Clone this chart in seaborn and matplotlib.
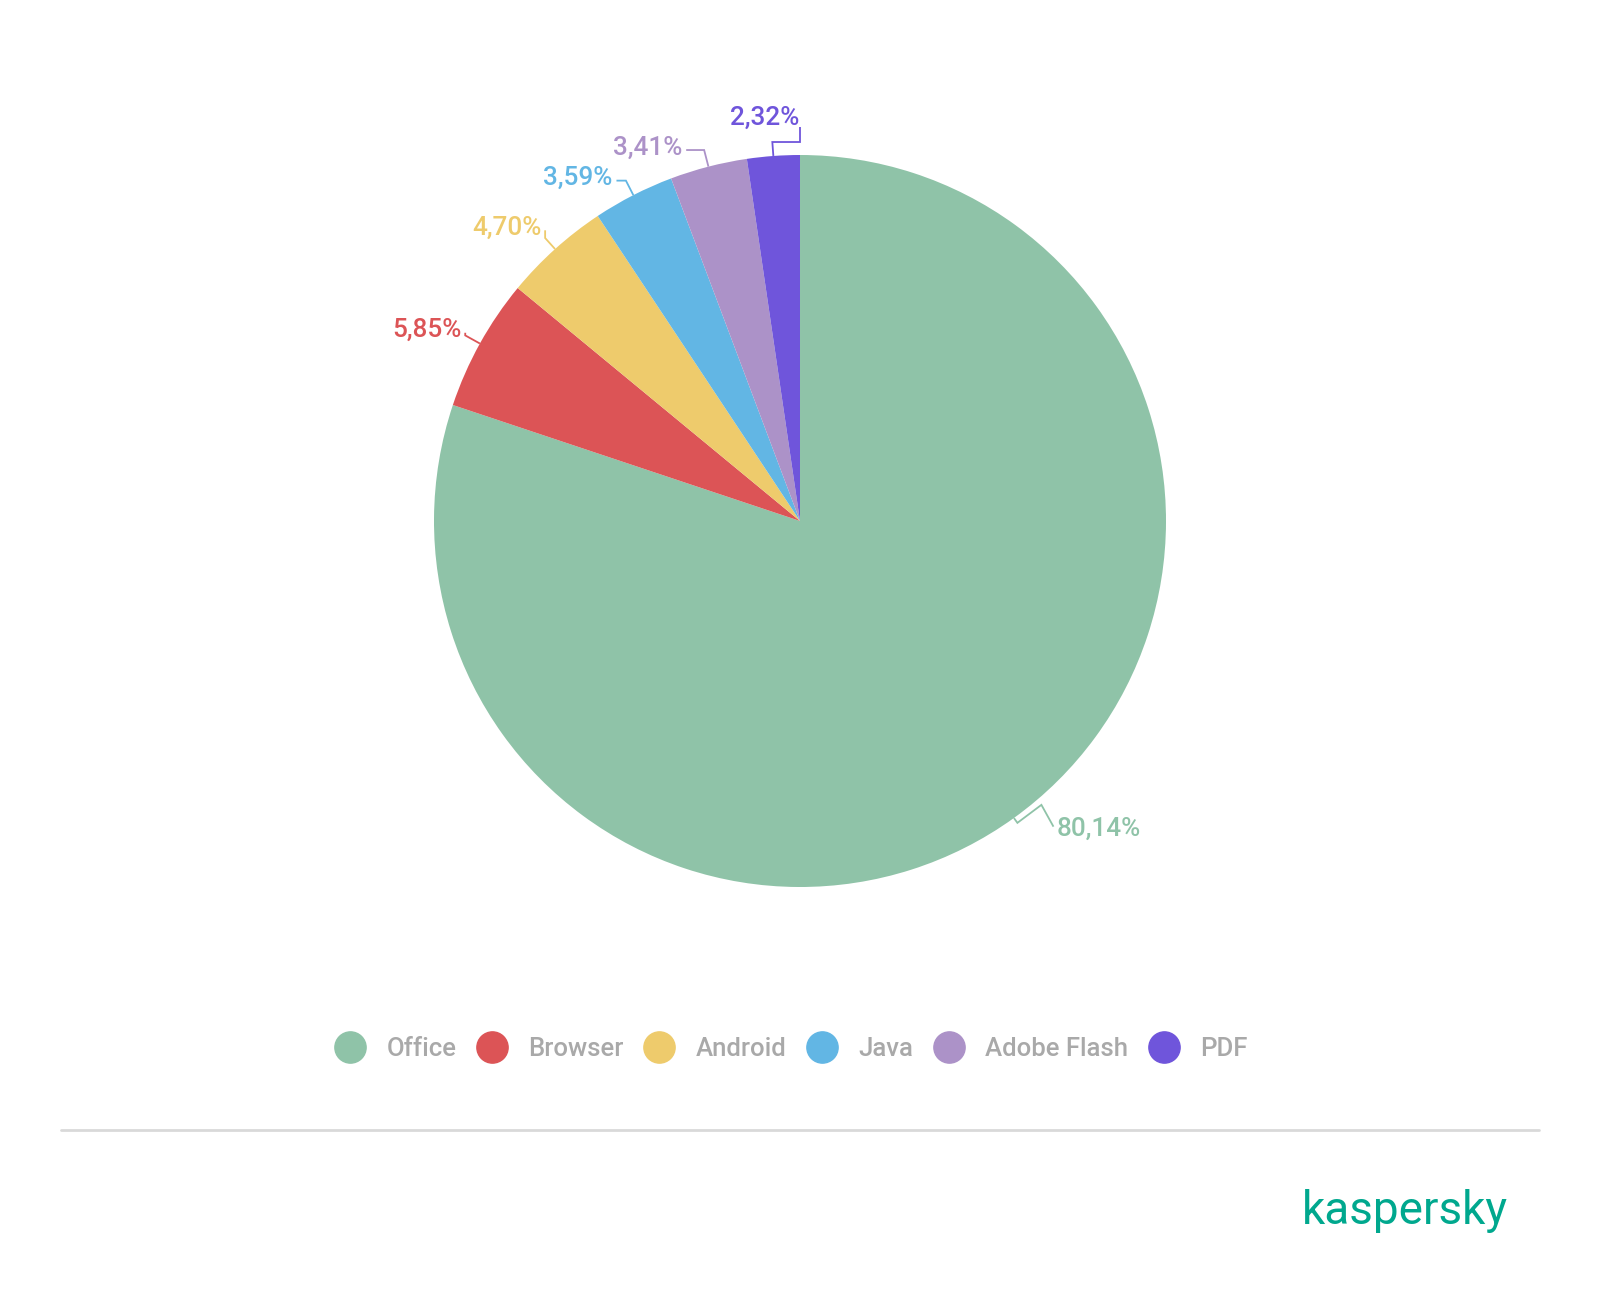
import numpy as np
import matplotlib
matplotlib.use("Agg")
import matplotlib.pyplot as plt
import seaborn as sns
from matplotlib.lines import Line2D

# ---- data ----
categories = ["Office", "Browser", "Android", "Java", "Adobe Flash", "PDF"]
shares = [80.14, 5.85, 4.70, 3.59, 3.41, 2.32]
colors = ["#8FC3A8", "#DC5456", "#EECB6C", "#62B6E4", "#AC92C8", "#6F55DB"]

# ---- layout (pixels, figure is 1600x1294) ----
W, H = 1600, 1294
CX, CY, R = 800, H - 521, 366
# label placement: (angle deg, distance px from centre, ha, leader kind)
label_layout = [(-50.0, 399, "left", "zig"), (150.3, 390, "right", "elbow"),
                (131.2, 393, "right", "elbow"), (118.5, 393, "right", "elbow"),
                (107.4, 394, "right", "elbow"), (90.1, 406, "right", "up")]

sns.set_theme(style="white")
plt.rcParams["font.family"] = ["Roboto", "DejaVu Sans"]

fig = plt.figure(figsize=(W / 100, H / 100), dpi=100)
ax = fig.add_axes([0, 0, 1, 1])

wedges, _ = ax.pie(shares, colors=colors, startangle=90, counterclock=False,
                   center=(CX, CY), radius=R, wedgeprops=dict(linewidth=0))
ax.set_xlim(0, W)
ax.set_ylim(0, H)
ax.set_aspect("equal")
ax.axis("off")

# labels with leader lines
for w, v, c, (la, ld, ha, kind) in zip(wedges, shares, colors, label_layout):
    mid = np.deg2rad((w.theta1 + w.theta2) / 2)
    d = np.array([np.cos(mid), np.sin(mid)])
    p0 = np.array([CX, CY]) + R * d
    lx = CX + ld * np.cos(np.deg2rad(la))
    ly = CY + ld * np.sin(np.deg2rad(la))
    if kind == "zig":
        p1 = p0 + 6 * d
        p2 = p1 + np.array([24, 18])
        end = np.array([lx - 3, ly])
        pts = [p0, p1, p2, end]
    elif kind == "up":
        p1 = p0 + 14 * d
        p2 = np.array([CX, p1[1]])
        end = np.array([CX, ly - 12])
        pts = [p0, p1, p2, end]
    else:
        end_x = lx + 4
        t_y = (ly - 5 - p0[1]) / d[1]
        t_x = (end_x - p0[0]) / d[0]
        t = min(t_y, t_x)
        p1 = p0 + t * d
        pts = [p0, p1, np.array([end_x, ly - 5])]
    pts = np.array(pts)
    ax.plot(pts[:, 0], pts[:, 1], color=c, lw=1.3, solid_capstyle="butt",
            solid_joinstyle="miter")
    txt = f"{v:.2f}".replace(".", ",") + "%"
    ax.text(lx, ly - 2.5, txt, color=c, fontsize=18.8, fontweight="medium",
            ha=ha, va="center")

# legend
handles = [Line2D([0], [0], marker="o", linestyle="none", markersize=22.5,
                  markerfacecolor=c, markeredgecolor=c) for c in colors]
leg = fig.legend(handles, categories, loc="center", bbox_to_anchor=(791 / W, 1 - 1049 / H),
                 ncol=6, frameon=False, fontsize=18.5, handlelength=1.2,
                 handletextpad=0.82, columnspacing=0.78, borderpad=0)
for t in leg.get_texts():
    t.set_color("#A9A9A9")
    t.set_fontweight("medium")

# separator line
ax.plot([61, 1539], [H - 1130, H - 1130], color="#D9D9D9", lw=2)

# logo text
ax.text(1508, H - 1211, "kaspersky", color="#00A88E", fontsize=33,
        ha="right", va="center", fontweight="normal")

fig.savefig("out.png", dpi=100)
